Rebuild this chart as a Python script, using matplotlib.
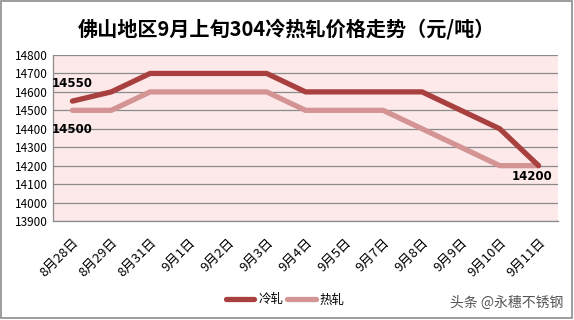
import matplotlib.pyplot as plt
from matplotlib.patches import Rectangle

plt.rcParams['font.family'] = ['Noto Sans CJK SC', 'DejaVu Sans']

# data
dates = ['8月28日', '8月29日', '8月31日', '9月1日', '9月2日', '9月3日', '9月4日',
         '9月5日', '9月7日', '9月8日', '9月9日', '9月10日', '9月11日']
cold = [14550, 14600, 14700, 14700, 14700, 14700, 14600, 14600, 14600, 14600, 14500, 14400, 14200]
hot = [14500, 14500, 14600, 14600, 14600, 14600, 14500, 14500, 14500, 14400, 14300, 14200, 14200]
yticks = list(range(13900, 14801, 100))

cold_color = '#A8403F'
hot_color = '#D49494'

fig = plt.figure(figsize=(5.74, 3.2), dpi=100)
fig.patches.append(Rectangle((0.002, 0.006), 0.994, 0.99, transform=fig.transFigure,
                             fill=False, edgecolor='#8c8c8c', linewidth=1.2))

ax = fig.add_axes([53 / 574, 1 - 221 / 320, 505 / 574, 166 / 320])
ax.set_facecolor('#FDE9E9')

x = list(range(len(dates)))
ax.plot(x, hot, color=hot_color, linewidth=3.8, solid_capstyle='round', label='热轧', zorder=3)
ax.plot(x, cold, color=cold_color, linewidth=3.8, solid_capstyle='round', label='冷轧', zorder=4)

ax.set_xlim(-0.5, len(dates) - 0.5)
ax.set_ylim(13900, 14800)
ax.set_yticks(yticks)
ax.set_yticklabels([str(v) for v in yticks], fontsize=8.5)
ax.yaxis.grid(True, color='#8a8a8a', linewidth=0.9)
ax.set_axisbelow(True)
ax.set_xticks(x)
ax.set_xticklabels(dates, rotation=45, ha='right', rotation_mode='anchor', fontsize=9.5)
ax.tick_params(axis='x', length=0, pad=11)
ax.tick_params(axis='y', length=0, pad=4)

for side in ['top', 'right']:
    ax.spines[side].set_visible(False)
for side in ['left', 'bottom']:
    ax.spines[side].set_color('#8a8a8a')
    ax.spines[side].set_linewidth(0.9)

# data labels
ax.annotate(str(cold[0]), (x[0], cold[0]), xytext=(0, 13), textcoords='offset points',
            ha='center', va='center', fontsize=8.5, fontweight='bold', family='DejaVu Sans')
ax.annotate(str(hot[0]), (x[0], hot[0]), xytext=(0, -14), textcoords='offset points',
            ha='center', va='center', fontsize=8.5, fontweight='bold', family='DejaVu Sans')
ax.annotate(str(cold[-1]), (x[-1], cold[-1]), xytext=(-5, -8), textcoords='offset points',
            ha='center', va='center', fontsize=8.5, fontweight='bold', family='DejaVu Sans')

fig.text(0.5, 1 - 29 / 320, '佛山地区9月上旬304冷热轧价格走势（元/吨）', ha='center', va='center',
         fontsize=14.5, fontweight='bold')

handles, labels = ax.get_legend_handles_labels()
fig.legend(handles[::-1], labels[::-1], loc='center', bbox_to_anchor=(285 / 574, 1 - 300 / 320),
           ncol=2, frameon=False, fontsize=9, handlelength=2.3, handletextpad=0.3,
           columnspacing=0.3)

fig.text(563 / 574, 1 - 303 / 320, '头条 @永穗不锈钢', ha='right', va='center',
         fontsize=10, color='#555555')

fig.savefig('out.png', dpi=100)
